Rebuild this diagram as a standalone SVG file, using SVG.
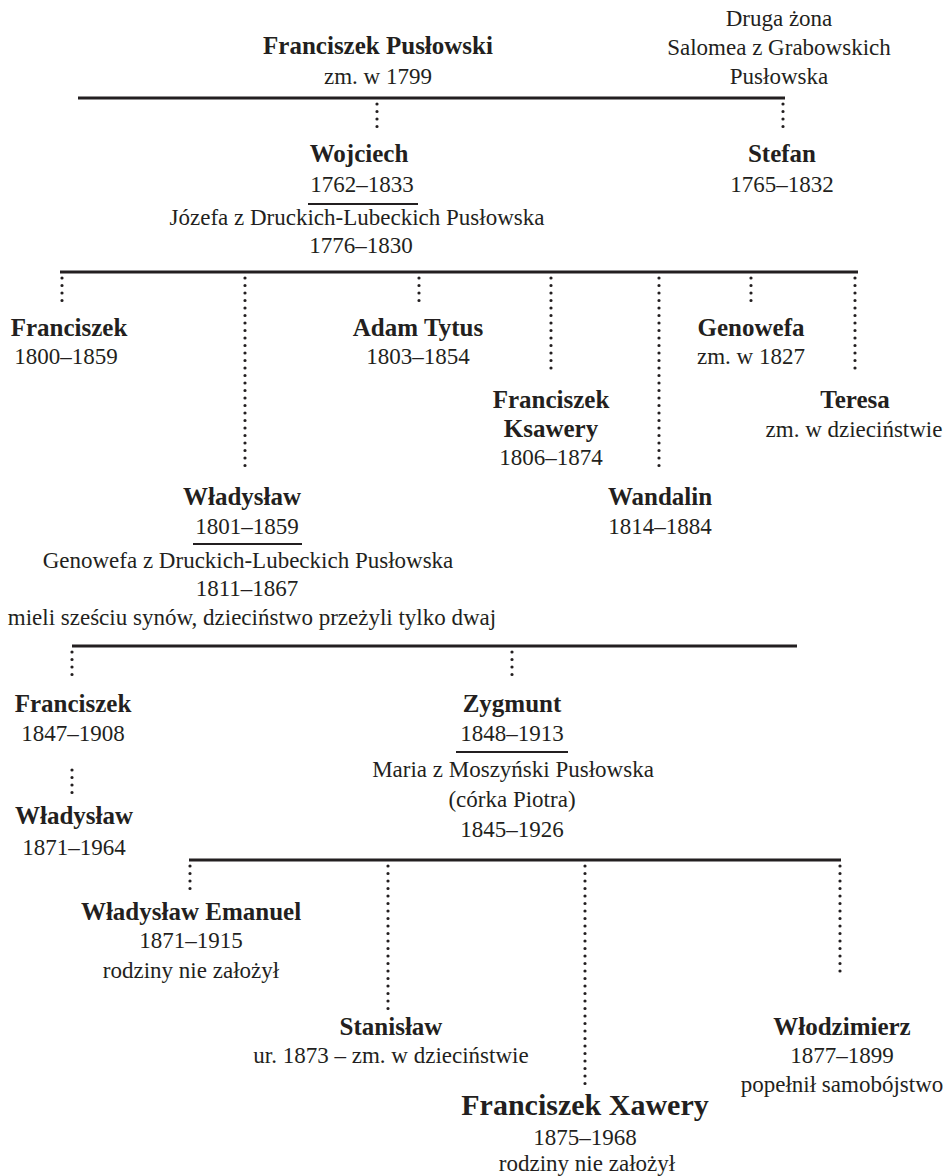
<svg xmlns="http://www.w3.org/2000/svg" width="945" height="1176" viewBox="0 0 945 1176">
<style>
text{font-family:"Liberation Serif","Times New Roman",serif;font-size:23px;fill:#231f20;text-anchor:middle}
.b{font-weight:bold;font-size:25px}
.big{font-size:30px;font-weight:bold}
.bar{stroke:#231f20;stroke-width:3;fill:none}
.ul{stroke:#231f20;stroke-width:2;fill:none}
.dot{stroke:#231f20;stroke-width:3.2;stroke-linecap:round;stroke-dasharray:0 7.5;fill:none}
</style>
<rect width="945" height="1176" fill="#fff"/>
<g id="connectors">
<line class="bar" x1="78" y1="98" x2="785" y2="98"/>
<line class="dot" x1="377" y1="104" x2="377" y2="130"/>
<line class="dot" x1="783" y1="104" x2="783" y2="130"/>
<line class="bar" x1="60" y1="272" x2="858" y2="272"/>
<line class="dot" x1="62" y1="278" x2="62" y2="302"/>
<line class="dot" x1="245" y1="278" x2="245" y2="470"/>
<line class="dot" x1="419" y1="278" x2="419" y2="302"/>
<line class="dot" x1="551" y1="278" x2="551" y2="372"/>
<line class="dot" x1="659" y1="278" x2="659" y2="470"/>
<line class="dot" x1="751" y1="278" x2="751" y2="302"/>
<line class="dot" x1="855" y1="278" x2="855" y2="372"/>
<line class="bar" x1="72" y1="646" x2="797" y2="646"/>
<line class="dot" x1="72" y1="652" x2="72" y2="680"/>
<line class="dot" x1="512" y1="652" x2="512" y2="680"/>
<line class="dot" x1="72" y1="770" x2="72" y2="800"/>
<line class="bar" x1="189" y1="860" x2="841" y2="860"/>
<line class="dot" x1="190" y1="866" x2="190" y2="891"/>
<line class="dot" x1="388" y1="866" x2="388" y2="1010"/>
<line class="dot" x1="585" y1="866" x2="585" y2="1090"/>
<line class="dot" x1="840" y1="866" x2="840" y2="975"/>
</g>
<g id="franciszek-puslowski">
<text class="b" x="378" y="54">Franciszek Pusłowski</text>
<text x="378" y="84">zm. w 1799</text>
</g>
<g id="salomea">
<text x="779" y="26">Druga żona</text>
<text x="779" y="55">Salomea z Grabowskich</text>
<text x="779" y="84">Pusłowska</text>
</g>
<g id="wojciech">
<text class="b" x="359" y="162">Wojciech</text>
<text x="362" y="192">1762–1833</text>
<line class="ul" x1="308" y1="204" x2="418" y2="204"/>
<text x="357" y="225">Józefa z Druckich-Lubeckich Pusłowska</text>
<text x="361" y="253">1776–1830</text>
</g>
<g id="stefan">
<text class="b" x="782" y="162">Stefan</text>
<text x="782" y="192">1765–1832</text>
</g>
<g id="franciszek-1800">
<text class="b" x="69" y="336">Franciszek</text>
<text x="66" y="364">1800–1859</text>
</g>
<g id="adam-tytus">
<text class="b" x="418" y="336">Adam Tytus</text>
<text x="418" y="364">1803–1854</text>
</g>
<g id="genowefa">
<text class="b" x="751" y="336">Genowefa</text>
<text x="751" y="364">zm. w 1827</text>
</g>
<g id="franciszek-ksawery">
<text class="b" x="551" y="408">Franciszek</text>
<text class="b" x="551" y="437">Ksawery</text>
<text x="551" y="465">1806–1874</text>
</g>
<g id="teresa">
<text class="b" x="855" y="408">Teresa</text>
<text x="854" y="437">zm. w dzieciństwie</text>
</g>
<g id="wladyslaw-1801">
<text class="b" x="242" y="505">Władysław</text>
<text x="247" y="534">1801–1859</text>
<line class="ul" x1="193" y1="544" x2="302" y2="544"/>
<text x="248" y="568">Genowefa z Druckich-Lubeckich Pusłowska</text>
<text x="247" y="596">1811–1867</text>
<text x="252" y="625">mieli sześciu synów, dzieciństwo przeżyli tylko dwaj</text>
</g>
<g id="wandalin">
<text class="b" x="660" y="505">Wandalin</text>
<text x="660" y="534">1814–1884</text>
</g>
<g id="franciszek-1847">
<text class="b" x="73" y="712">Franciszek</text>
<text x="73" y="741">1847–1908</text>
</g>
<g id="wladyslaw-1871">
<text class="b" x="74" y="824">Władysław</text>
<text x="74" y="855">1871–1964</text>
</g>
<g id="zygmunt">
<text class="b" x="512" y="712">Zygmunt</text>
<text x="512" y="741">1848–1913</text>
<line class="ul" x1="456" y1="752" x2="568" y2="752"/>
<text x="513" y="777">Maria z Moszyński Pusłowska</text>
<text x="512" y="807">(córka Piotra)</text>
<text x="512" y="837">1845–1926</text>
</g>
<g id="wladyslaw-emanuel">
<text class="b" x="191" y="920">Władysław Emanuel</text>
<text x="191" y="948">1871–1915</text>
<text x="191" y="978">rodziny nie założył</text>
</g>
<g id="stanislaw">
<text class="b" x="391" y="1035">Stanisław</text>
<text x="391" y="1063">ur. 1873 – zm. w dzieciństwie</text>
</g>
<g id="wlodzimierz">
<text class="b" x="842" y="1035">Włodzimierz</text>
<text x="842" y="1063">1877–1899</text>
<text x="842" y="1092">popełnił samobójstwo</text>
</g>
<g id="franciszek-xawery">
<text class="big" x="585" y="1115">Franciszek Xawery</text>
<text x="585" y="1145">1875–1968</text>
<text x="587" y="1171">rodziny nie założył</text>
</g>
</svg>
